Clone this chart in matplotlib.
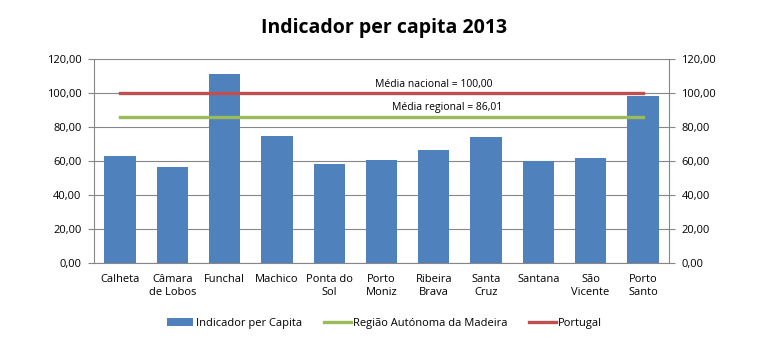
import numpy as np
import matplotlib.pyplot as plt

plt.rcParams['font.family'] = ['Open Sans', 'DejaVu Sans']

municipios = ["Calheta", "Câmara\nde Lobos", "Funchal", "Machico", "Ponta do\nSol",
              "Porto\nMoniz", "Ribeira\nBrava", "Santa\nCruz", "Santana", "São\nVicente",
              "Porto\nSanto"]
indicador = [62.9, 56.6, 111.2, 74.8, 58.3, 60.7, 66.6, 74.2, 60.0, 61.6, 98.3]
media_regional = 86.01
media_nacional = 100.00

fig = plt.figure(figsize=(7.69, 3.44), dpi=100)
ax = fig.add_axes([0.1222, 0.2355, 0.7478, 0.593])

x = np.arange(len(municipios))
b = ax.bar(x, indicador, width=0.6, color="#4F81BD", label="Indicador per Capita", zorder=2)
l1, = ax.plot([x[0], x[-1]], [media_regional] * 2, color="#9BBB59", lw=2.4,
              label="Região Autónoma da Madeira", zorder=3)
l2, = ax.plot([x[0], x[-1]], [media_nacional] * 2, color="#C0504D", lw=2.4,
              label="Portugal", zorder=3)

ax.text(6.0, media_nacional + 2, "Média nacional = 100,00", ha="center", va="bottom", fontsize=7.5)
ax.text(6.25, media_regional + 2, "Média regional = 86,01", ha="center", va="bottom", fontsize=7.5)

ax.set_xlim(-0.5, len(municipios) - 0.5)
ax.set_ylim(0, 120)
yt = np.arange(0, 121, 20)
ax.set_yticks(yt)
ax.set_yticklabels([f"{v:.2f}".replace(".", ",") for v in yt], fontsize=8)
ax.yaxis.grid(True, color="#868686", lw=0.8, zorder=0)
ax.set_xticks(x)
ax.set_xticklabels(municipios, fontsize=8)
ax.tick_params(axis="x", length=0, pad=8)
ax.tick_params(axis="y", direction="out", length=4, color="#868686", pad=5)
for s in ["top", "right"]:
    ax.spines[s].set_visible(False)
for s in ["left", "bottom"]:
    ax.spines[s].set_color("#868686")

ax2 = ax.twinx()
ax2.set_ylim(0, 120)
ax2.set_yticks(yt)
ax2.set_yticklabels([f"{v:.2f}".replace(".", ",") for v in yt], fontsize=8)
ax2.tick_params(axis="y", direction="out", length=4, color="#868686", pad=5)
for s in ["top", "left", "bottom"]:
    ax2.spines[s].set_visible(False)
ax2.spines["right"].set_color("#868686")

fig.text(0.5, 0.92, "Indicador per capita 2013", ha="center", va="center",
         fontsize=14, fontweight="bold")

fig.legend(handles=[b, l1, l2], loc="center", bbox_to_anchor=(0.5, 0.06), ncol=3,
           frameon=False, fontsize=8, handlelength=2.4, columnspacing=2.0, handletextpad=0.2)

fig.savefig("out.png", dpi=100)
